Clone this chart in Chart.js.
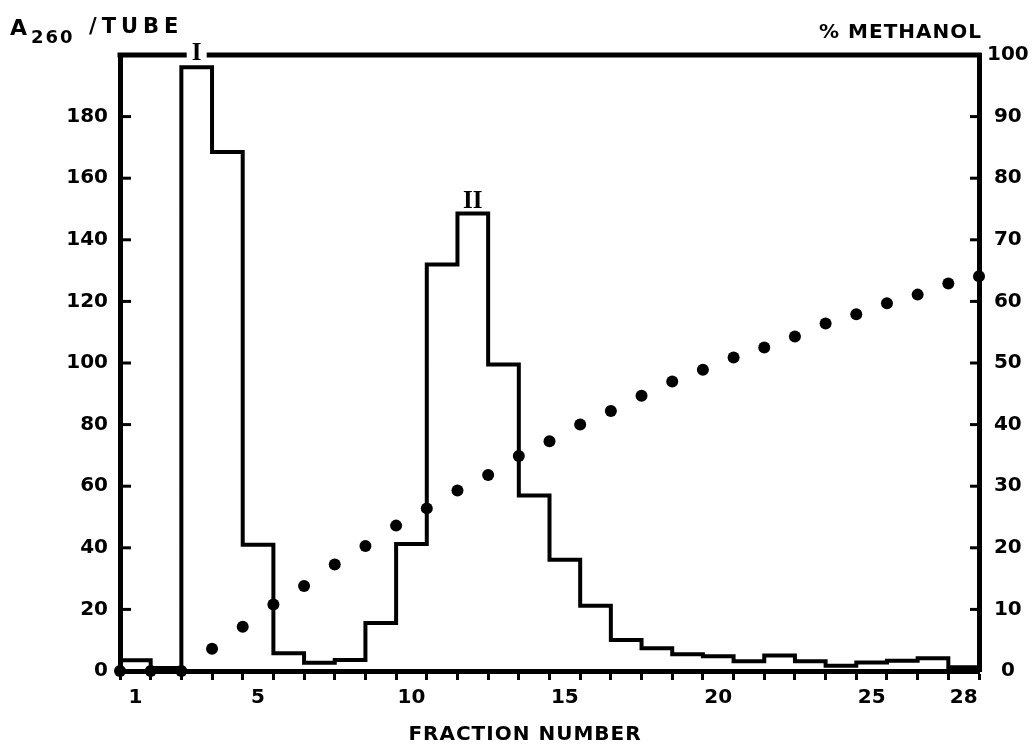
<!DOCTYPE html>
<html>
<head>
<meta charset="utf-8">
<script src="https://cdn.jsdelivr.net/npm/chart.js@4.4.0/dist/chart.umd.min.js"></script>
<style>
    body { margin: 0; background: #fff; }
    canvas { display: block; }
</style>
</head>
<body>
<canvas id="chart" width="1035" height="744"></canvas>
<script>
// Tube numbers and A260 per tube (step plot)
const fractions = [1, 2, 3, 4, 5, 6, 7, 8, 9, 10, 11, 12, 13, 14,
    15, 16, 17, 18, 19, 20, 21, 22, 23, 24, 25, 26, 27, 28];
const a260 = [3.5, 1, 196, 168.5, 41, 5.8, 2.7, 3.6, 15.6, 41.2, 132, 148.5, 99.5, 57,
    36.1, 21.2, 10.1, 7.4, 5.4, 4.8, 3.2, 5.0, 3.2, 1.7, 2.8, 3.3, 4.1, 1.2];

// % methanol, read at the end of each tube (0 = start of tube 1)
const methanolAfterTube = [0, 1, 2, 3, 4, 5, 6, 7, 8, 9, 10, 11, 12, 13, 14,
    15, 16, 17, 18, 19, 20, 21, 22, 23, 24, 25, 26, 27, 28];
const methanol = [0, 0, 0, 3.6, 7.2, 10.8, 13.8, 17.3, 20.3, 23.6, 26.4, 29.3, 31.8, 34.9, 37.3,
    40.0, 42.2, 44.7, 47.0, 48.9, 50.9, 52.5, 54.3, 56.4, 57.9, 59.7, 61.1, 62.9, 64.1];

// Labelled tubes on the x axis, and the two peaks
const xTickLabels = [1, 5, 10, 15, 20, 25, 28];
const peakNames = ['I', 'II'];
const peakTubes = [3, 12];

const tickFont = { family: 'DejaVu Sans', size: 20, weight: 'bold' };

// step points sit on the left edge of each tube, closed at the right edge of the last one
const stepPoints = fractions.map((f, i) => ({ x: f - 0.5, y: a260[i] }));
stepPoints.push({ x: fractions[fractions.length - 1] + 0.5, y: a260[a260.length - 1] });

const methanolPoints = methanolAfterTube.map((t, i) => ({ x: t + 0.5, y: methanol[i] }));

const boundaries = [0.5].concat(fractions.map(f => f + 0.5));

// Inward ticks, the top frame with the gap for peak I, peak names and axis titles
const frameAndLabels = {
    id: 'frameAndLabels',
    afterDraw(chart) {
        const { ctx, chartArea: a, scales } = chart;
        const line = (x1, y1, x2, y2) => {
            ctx.beginPath();
            ctx.moveTo(x1, y1);
            ctx.lineTo(x2, y2);
            ctx.stroke();
        };
        ctx.save();
        ctx.strokeStyle = '#000';
        ctx.fillStyle = '#000';

        ctx.lineWidth = 3;
        scales.y.ticks.forEach(t => {
            if (t.value > 0 && t.value < 200) {
                const y = scales.y.getPixelForValue(t.value);
                line(a.left, y, a.left + 11, y);
            }
        });
        scales.y2.ticks.forEach(t => {
            if (t.value > 0 && t.value < 100) {
                const y = scales.y2.getPixelForValue(t.value);
                line(a.right - 9, y, a.right, y);
            }
        });

        // top frame
        const xI = scales.x.getPixelForValue(peakTubes[0]);
        ctx.lineWidth = 5;
        line(a.left - 2.5, a.top, xI - 10, a.top);
        line(xI + 10, a.top, a.right + 2.5, a.top);

        // peak names
        ctx.font = 'bold 25px "Liberation Serif"';
        ctx.textAlign = 'center';
        ctx.textBaseline = 'middle';
        ctx.fillText(peakNames[0], xI, a.top - 1);
        const xII = scales.x.getPixelForValue(peakTubes[1]);
        const yII = scales.y.getPixelForValue(a260[peakTubes[1] - 1]);
        ctx.textBaseline = 'alphabetic';
        ctx.fillText(peakNames[1], xII, yII - 6);

        // axis titles
        ctx.textAlign = 'left';
        ctx.font = 'bold 22px "DejaVu Sans"';
        ctx.fillText('A', 10, 35);
        ctx.font = 'bold 18px "DejaVu Sans"';
        ctx.letterSpacing = '2px';
        ctx.fillText('260', 31, 43);
        ctx.font = 'bold 21px "DejaVu Sans"';
        ctx.letterSpacing = '5px';
        ctx.fillText('/TUBE', 89, 33);
        ctx.font = 'bold 20px "DejaVu Sans"';
        ctx.letterSpacing = '1px';
        ctx.textAlign = 'right';
        ctx.fillText('% METHANOL', 982, 38);
        ctx.textAlign = 'center';
        ctx.fillText('FRACTION NUMBER', 525, 740);
        ctx.restore();
    }
};

new Chart(document.getElementById('chart'), {
    type: 'scatter',
    data: {
        datasets: [{
            data: methanolPoints,
            yAxisID: 'y2',
            showLine: false,
            pointRadius: 6,
            pointBackgroundColor: '#000',
            pointBorderWidth: 0,
            clip: false
        }, {
            data: stepPoints,
            yAxisID: 'y',
            showLine: true,
            stepped: true,
            borderColor: '#000',
            borderWidth: 4,
            pointRadius: 0,
            clip: false
        }]
    },
    options: {
        responsive: false,
        animation: false,
        layout: { padding: { top: 55 } },
        plugins: {
            legend: { display: false },
            tooltip: { enabled: false }
        },
        scales: {
            x: {
                type: 'linear',
                min: 0.5,
                max: 28.5,
                afterBuildTicks: (scale) => {
                    scale.ticks = boundaries.concat(xTickLabels)
                        .sort((p, q) => p - q)
                        .map(v => ({ value: v }));
                },
                afterFit: (scale) => { scale.height = 73; },
                ticks: {
                    autoSkip: false,
                    maxRotation: 0,
                    padding: 6,
                    color: '#000',
                    font: tickFont,
                    callback: (v) => xTickLabels.includes(v) ? String(v) : ''
                },
                grid: {
                    drawOnChartArea: false,
                    tickLength: 9,
                    tickWidth: 3,
                    tickColor: (ctx) => (ctx.tick && Number.isInteger(ctx.tick.value)) ? 'rgba(0,0,0,0)' : '#000'
                },
                border: { width: 5, color: '#000' }
            },
            y: {
                position: 'left',
                min: 0,
                max: 200,
                afterFit: (scale) => { scale.width = 120; },
                ticks: {
                    stepSize: 20,
                    padding: 12,
                    color: '#000',
                    font: tickFont,
                    callback: (v) => v === 200 ? '' : v
                },
                grid: { display: false, drawTicks: false },
                border: { display: true, width: 5, color: '#000' }
            },
            y2: {
                position: 'right',
                min: 0,
                max: 100,
                afterFit: (scale) => { scale.width = 56; },
                ticks: {
                    stepSize: 10,
                    padding: 8,
                    crossAlign: 'center',
                    color: '#000',
                    font: tickFont
                },
                grid: { display: false, drawTicks: false },
                border: { display: true, width: 5, color: '#000' }
            }
        }
    },
    plugins: [frameAndLabels]
});
</script>
</body>
</html>
